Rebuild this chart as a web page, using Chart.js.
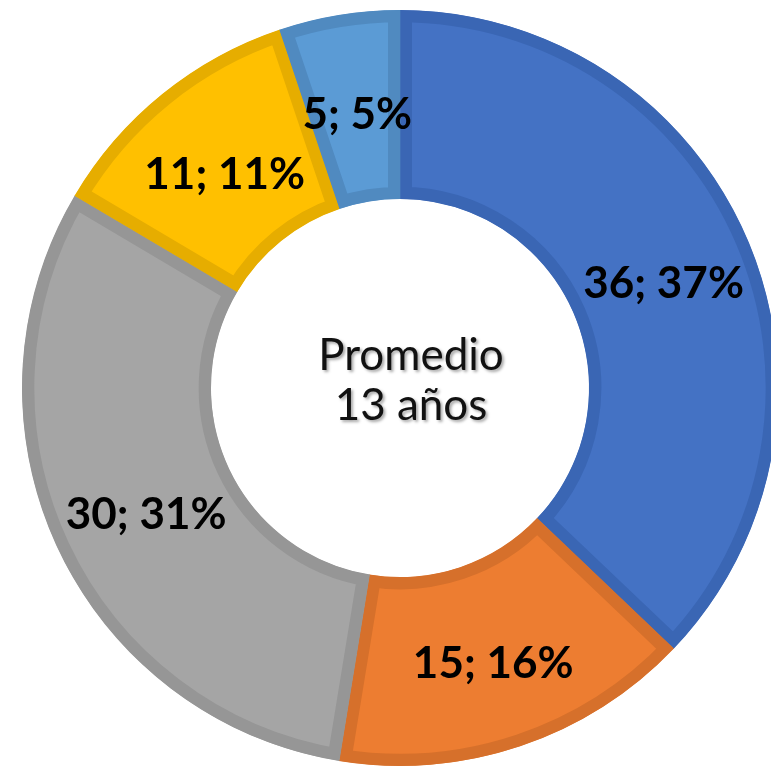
<!DOCTYPE html>
<html>
<head>
<meta charset="utf-8">
<script src="https://cdn.jsdelivr.net/npm/chart.js@4"></script>
<style>
    html, body { margin: 0; padding: 0; overflow: hidden; background: #fff; }
    #wrap { position: absolute; left: 0; top: 0; width: 800px; height: 776px; }
</style>
</head>
<body>
<div id="wrap"><canvas id="myChart" width="800" height="776"></canvas></div>
<script>
// datos del grafico
const categorias = ['Grupo 1', 'Grupo 2', 'Grupo 3', 'Grupo 4', 'Grupo 5'];
const valores = [36, 15, 30, 11, 5];
const porcentajes = [37, 16, 31, 11, 5];
const colores = ['#4472C4', '#ED7D31', '#A5A5A5', '#FFC000', '#5B9BD5'];
const bordes = ['#3A66B4', '#D6702B', '#969696', '#E6AD00', '#508AC0'];
const textoCentro = ['Promedio', '13 años'];

// etiquetas sobre cada porcion (no hay plugin de datalabels)
const etiquetas = {
    id: 'etiquetas',
    afterDatasetsDraw(chart) {
        const ctx = chart.ctx;
        const meta = chart.getDatasetMeta(0);
        ctx.save();
        ctx.font = 'bold 44px Lato';
        ctx.fillStyle = '#000';
        ctx.textAlign = 'center';
        ctx.textBaseline = 'middle';
        meta.data.forEach((arc, i) => {
            const p = arc.tooltipPosition();
            ctx.fillText(valores[i] + '; ' + porcentajes[i] + '%', p.x + 3, p.y + 7);
        });

        // texto del centro
        const cx = (chart.chartArea.left + chart.chartArea.right) / 2;
        const cy = (chart.chartArea.top + chart.chartArea.bottom) / 2;
        ctx.font = '44px Lato';
        ctx.textBaseline = 'alphabetic';
        ctx.shadowColor = 'rgba(0,0,0,0.35)';
        ctx.shadowOffsetX = 2;
        ctx.shadowOffsetY = 2;
        ctx.shadowBlur = 3;
        ctx.fillStyle = '#111';
        ctx.fillText(textoCentro[0], cx + 11, cy - 18);
        ctx.fillText(textoCentro[1], cx + 11, cy + 32);
        ctx.restore();
    }
};

const ctx = document.getElementById('myChart').getContext('2d');
new Chart(ctx, {
    type: 'doughnut',
    data: {
        labels: categorias,
        datasets: [{
            data: valores,
            backgroundColor: colores,
            borderColor: bordes,
            borderWidth: 12,
            borderAlign: 'inner',
            borderJoinStyle: 'miter',
            hoverOffset: 0
        }]
    },
    options: {
        responsive: false,
        animation: false,
        radius: 378,
        cutout: '50%',
        layout: { padding: 0 },
        plugins: {
            legend: { display: false },
            tooltip: { enabled: false }
        }
    },
    plugins: [etiquetas]
});
</script>
</body>
</html>
